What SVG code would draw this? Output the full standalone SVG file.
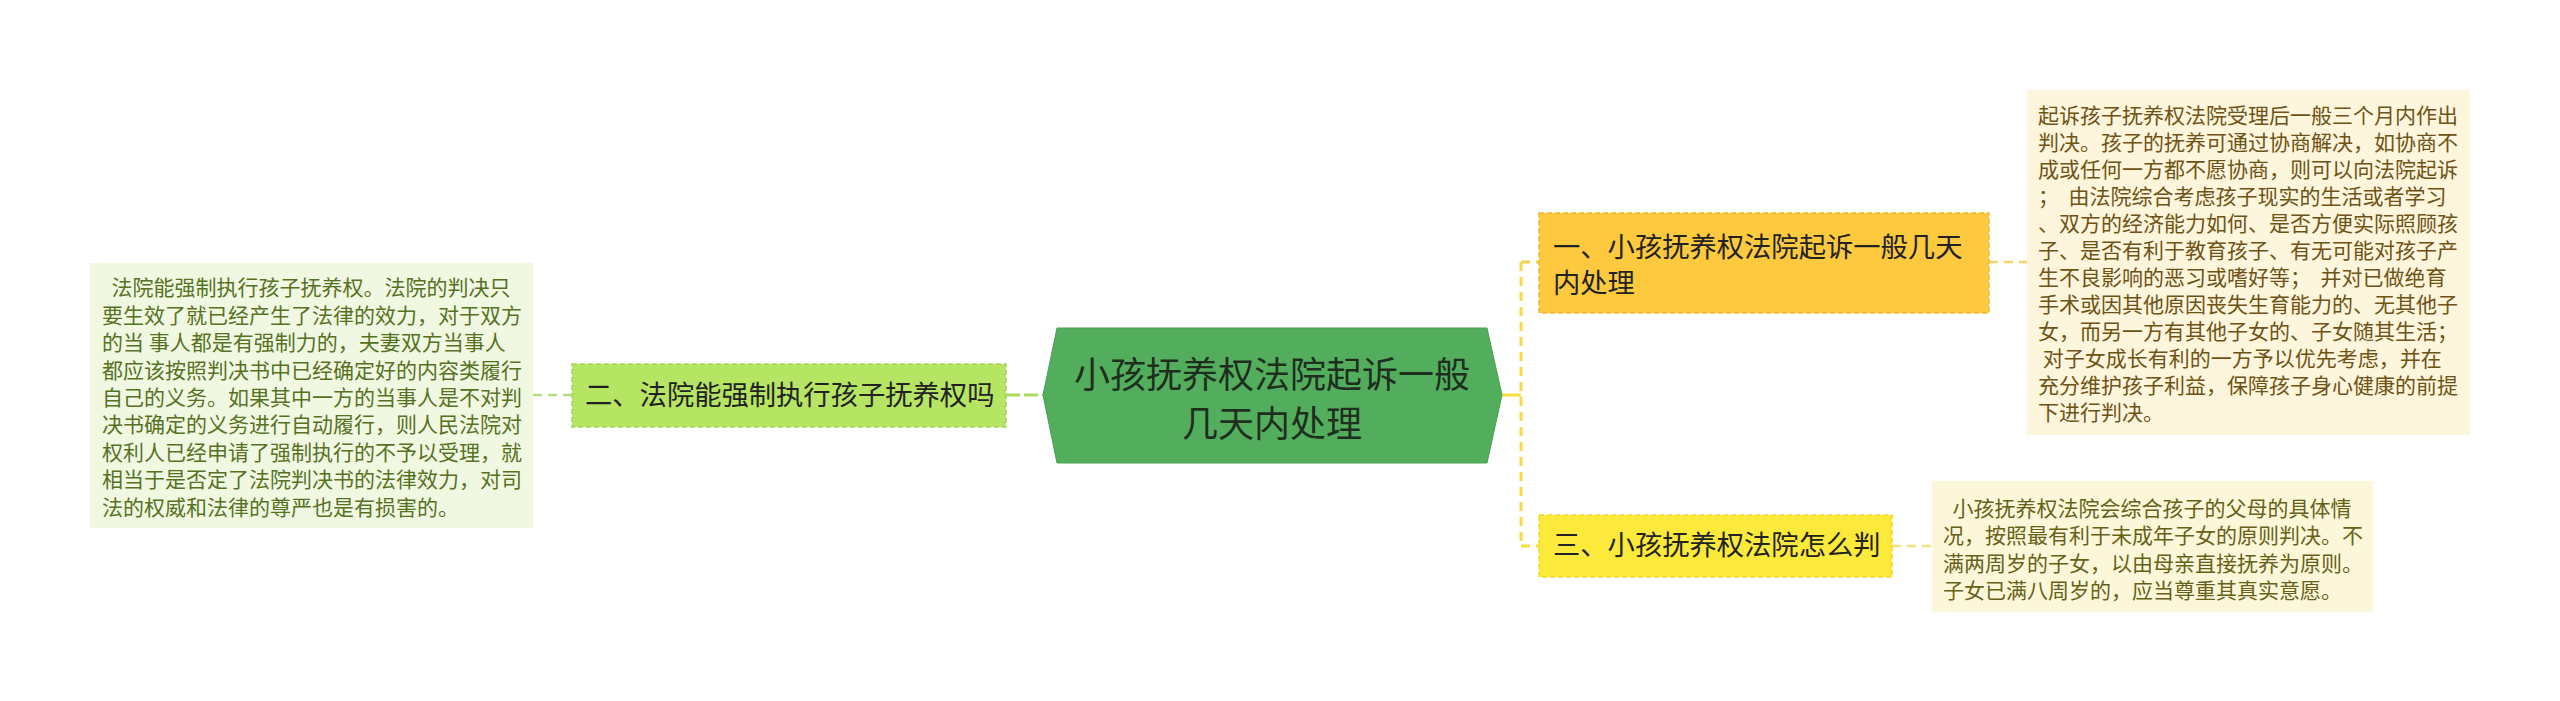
<svg xmlns="http://www.w3.org/2000/svg" width="2560" height="701" viewBox="0 0 2560 701">
<style>
text{font-family:"Noto Sans CJK SC","Noto Sans",sans-serif;}
.ltxt{font-size:21px;fill:#56721f;}
.rtxt{font-size:21px;fill:#6e5314;}
.btxt{font-size:21px;fill:#676118;}
.ntxt{font-size:27.3px;fill:#222;}
.ctxt{font-size:36px;fill:#1f2e1f;}
</style>
<rect width="2560" height="701" fill="#ffffff"/>
<g id="connectors" fill="none">
<line x1="1006" y1="395" x2="1043" y2="395" stroke="#a9dc5c" stroke-width="3" stroke-dasharray="14 4"/>
<line x1="533" y1="395" x2="572" y2="395" stroke="#b3dc84" stroke-width="2.5" stroke-dasharray="9 6"/>
<line x1="1502" y1="395" x2="1521" y2="395" stroke="#f5df3a" stroke-width="3"/>
<line x1="1521" y1="262" x2="1521" y2="546" stroke="#f7d94a" stroke-width="3" stroke-dasharray="9 6"/>
<line x1="1521" y1="262" x2="1539" y2="262" stroke="#f5cf4a" stroke-width="3" stroke-dasharray="9 6"/>
<line x1="1521" y1="546" x2="1539" y2="546" stroke="#f7df3a" stroke-width="3" stroke-dasharray="9 6"/>
<line x1="1989" y1="262" x2="2027" y2="262" stroke="#f6d46a" stroke-width="2.5" stroke-dasharray="9 6"/>
<line x1="1892" y1="546" x2="1932" y2="546" stroke="#f3e37a" stroke-width="2.5" stroke-dasharray="9 6"/>
</g>
<g id="center">
<polygon points="1043,395 1057,328 1487,328 1502,395 1487,463 1057,463" fill="#52ae5c" stroke="#4a9f52" stroke-width="1"/>
<text class="ctxt" x="1272" y="388" text-anchor="middle">小孩抚养权法院起诉一般</text>
<text class="ctxt" x="1272" y="436.5" text-anchor="middle">几天内处理</text>
</g>
<g id="node2">
<rect x="572" y="364" width="434" height="63" fill="#b6e463" stroke="#a2d352" stroke-width="1.5" stroke-dasharray="5 3"/>
<text class="ntxt" x="585" y="404.5">二、法院能强制执行孩子抚养权吗</text>
</g>
<g id="leftbox">
<rect x="90" y="263" width="443" height="265" fill="#f0f8e2"/>
<text class="ltxt" xml:space="preserve"><tspan x="102" y="295.4">  法院能强制执行孩子抚养权。法院的判决只</tspan><tspan x="102" y="322.8">要生效了就已经产生了法律的效力，对于双方</tspan><tspan x="102" y="350.2">的当 事人都是有强制力的，夫妻双方当事人</tspan><tspan x="102" y="377.6">都应该按照判决书中已经确定好的内容类履行</tspan><tspan x="102" y="405">自己的义务。如果其中一方的当事人是不对判</tspan><tspan x="102" y="432.4">决书确定的义务进行自动履行，则人民法院对</tspan><tspan x="102" y="459.8">权利人已经申请了强制执行的不予以受理，就</tspan><tspan x="102" y="487.2">相当于是否定了法院判决书的法律效力，对司</tspan><tspan x="102" y="514.6">法的权威和法律的尊严也是有损害的。</tspan></text>
</g>
<g id="node1">
<rect x="1539" y="213" width="450" height="100" fill="#fcc93f" stroke="#efb92f" stroke-width="1.5" stroke-dasharray="5 3"/>
<text class="ntxt" x="1553" y="256.5">一、小孩抚养权法院起诉一般几天</text>
<text class="ntxt" x="1553" y="292.5">内处理</text>
</g>
<g id="rightbox">
<rect x="2027" y="90" width="443" height="345" fill="#fdf5dc"/>
<text class="rtxt" xml:space="preserve"><tspan x="2038" y="122.5">起诉孩子抚养权法院受理后一般三个月内作出</tspan><tspan x="2038" y="149.5">判决。孩子的抚养可通过协商解决，如协商不</tspan><tspan x="2038" y="176.5">成或任何一方都不愿协商，则可以向法院起诉</tspan><tspan x="2038" y="203.5">；  由法院综合考虑孩子现实的生活或者学习</tspan><tspan x="2038" y="230.5">、双方的经济能力如何、是否方便实际照顾孩</tspan><tspan x="2038" y="257.5">子、是否有利于教育孩子、有无可能对孩子产</tspan><tspan x="2038" y="284.5">生不良影响的恶习或嗜好等；  并对已做绝育</tspan><tspan x="2038" y="311.5">手术或因其他原因丧失生育能力的、无其他子</tspan><tspan x="2038" y="338.5">女，而另一方有其他子女的、子女随其生活；</tspan><tspan x="2038" y="365.5"> 对子女成长有利的一方予以优先考虑，并在</tspan><tspan x="2038" y="392.5">充分维护孩子利益，保障孩子身心健康的前提</tspan><tspan x="2038" y="419.5">下进行判决。</tspan></text>
</g>
<g id="node3">
<rect x="1539" y="515" width="353" height="62" fill="#fbe93b" stroke="#efd92c" stroke-width="1.5" stroke-dasharray="5 3"/>
<text class="ntxt" x="1553" y="554.5">三、小孩抚养权法院怎么判</text>
</g>
<g id="bottombox">
<rect x="1932" y="481" width="441" height="131" fill="#fcf7d9"/>
<text class="btxt" xml:space="preserve"><tspan x="1943" y="515.5">  小孩抚养权法院会综合孩子的父母的具体情</tspan><tspan x="1943" y="543">况，按照最有利于未成年子女的原则判决。不</tspan><tspan x="1943" y="570.5">满两周岁的子女，以由母亲直接抚养为原则。</tspan><tspan x="1943" y="598">子女已满八周岁的，应当尊重其真实意愿。</tspan></text>
</g>
</svg>
